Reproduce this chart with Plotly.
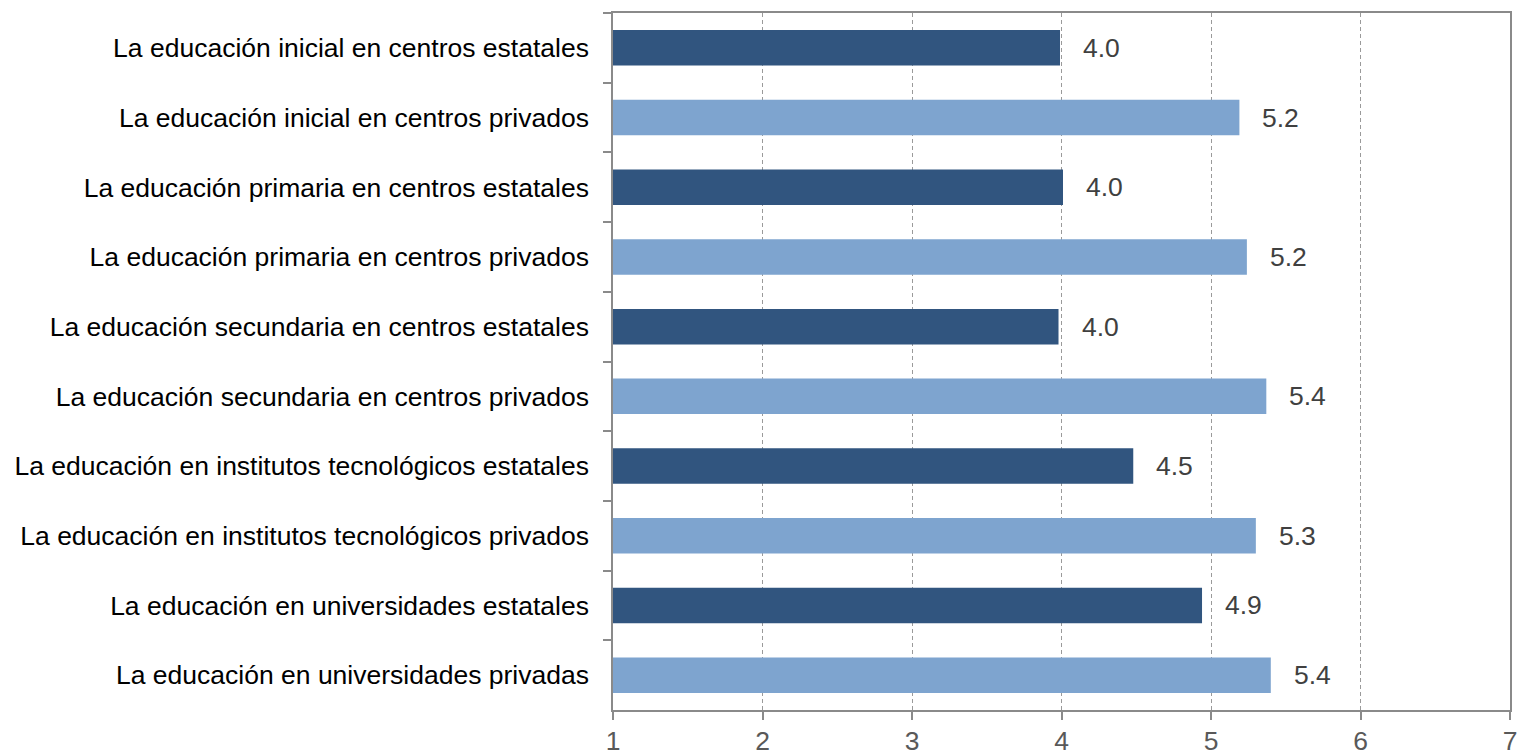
import plotly.graph_objects as go

categories = [
    "La educación inicial en centros estatales",
    "La educación inicial en centros privados",
    "La educación primaria en centros estatales",
    "La educación primaria en centros privados",
    "La educación secundaria en centros estatales",
    "La educación secundaria en centros privados",
    "La educación en institutos tecnológicos estatales",
    "La educación en institutos tecnológicos privados",
    "La educación en universidades estatales",
    "La educación en universidades privadas",
]
values = [3.99, 5.19, 4.01, 5.24, 3.98, 5.37, 4.48, 5.30, 4.94, 5.40]
kinds = ["estatal", "privado"] * 5
x_ticks = [1, 2, 3, 4, 5, 6, 7]

color_map = {"estatal": "#31557F", "privado": "#7EA4CF"}
colors = [color_map[k] for k in kinds]

FONT = "Liberation Sans, Arial, sans-serif"
FS = 26.5

fig = go.Figure()
fig.add_trace(go.Bar(
    x=values, y=categories, orientation="h",
    marker=dict(color=colors, line=dict(width=0)),
    hoverinfo="skip",
))

annotations = [
    dict(x=v, y=c, xref="x", yref="y", text=f"{v:.1f}", showarrow=False,
         xanchor="left", yanchor="middle", xshift=21,
         font=dict(family=FONT, size=FS, color="#404040"))
    for v, c in zip(values, categories)
]

fig.update_layout(
    width=1518, height=752,
    margin=dict(l=613, r=8, t=13, b=42, autoexpand=False),
    paper_bgcolor="white", plot_bgcolor="white",
    bargap=0.49,
    showlegend=False,
    annotations=annotations,
    xaxis=dict(
        range=[1, 7], tickvals=x_ticks, ticktext=[str(t) for t in x_ticks],
        showgrid=True, gridcolor="#9A9A9A", gridwidth=1, griddash="4px,3px",
        zeroline=False,
        showline=True, linecolor="#8A8A8A", linewidth=1.5, mirror=True,
        ticks="outside", ticklen=8, tickcolor="#8A8A8A", tickwidth=1.5,
        ticklabelstandoff=-2,
        tickfont=dict(family=FONT, size=FS, color="#595959"),
    ),
    yaxis=dict(
        autorange="reversed", type="category",
        showgrid=False, zeroline=False,
        showline=True, linecolor="#8A8A8A", linewidth=1.5, mirror=True,
        ticks="outside", ticklen=8, tickcolor="#8A8A8A", tickwidth=1.5,
        tickson="boundaries",
        ticklabelstandoff=17,
        tickfont=dict(family=FONT, size=FS, color="#000000"),
    ),
)

fig.write_html(
    "out.html",
    config={"displayModeBar": False},
    post_script="document.body.style.margin='0';document.body.style.overflow='hidden';",
)
